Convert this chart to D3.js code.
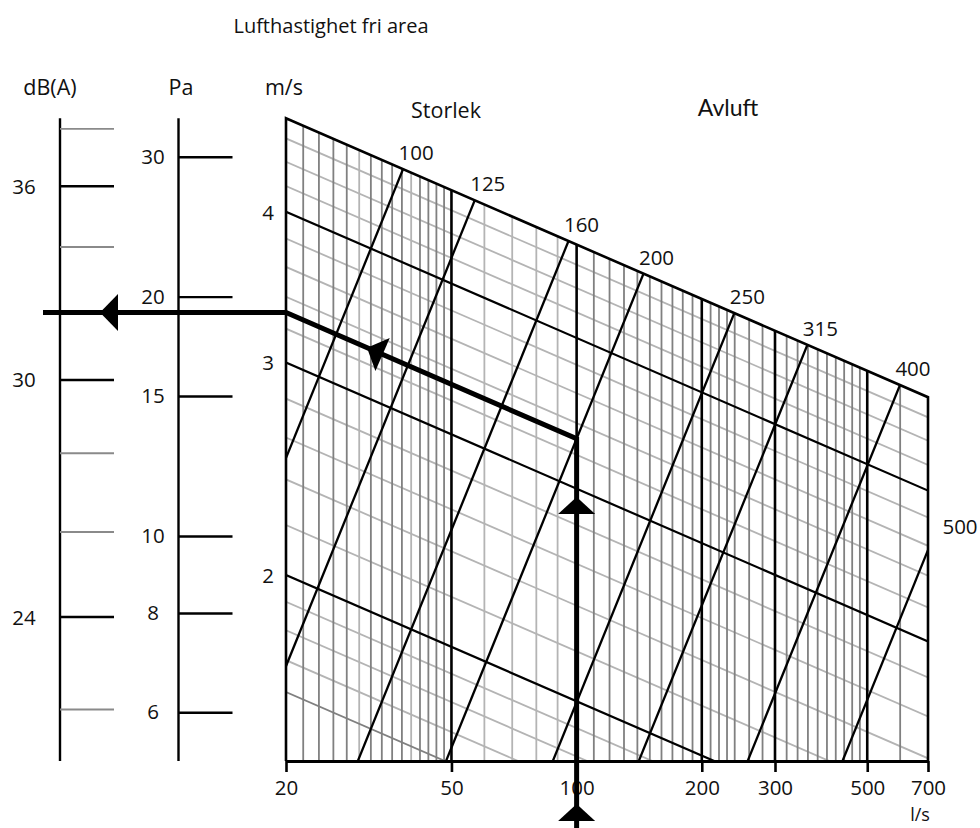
<!DOCTYPE html>
<html><head><meta charset="utf-8">
<script src="https://cdn.jsdelivr.net/npm/d3@7"></script>
<style>
body{margin:0;background:#fff}
svg{display:block}
text{font-family:"Open Sans",sans-serif;fill:#111}
</style>
</head><body>
<svg id="c" width="980" height="828"></svg>
<script>
// ---- data ----
const flowTicks = [20, 50, 100, 200, 300, 500, 700];
const flowMajor = [50, 100, 200, 300, 500];
const flowMinorDark = [22,24,26,28,32,34,36,38,42,44,46,48,110,120,130,140,150,160,170,180,190,210,220,230,240,260,280,320,340,360,380,400,420,440,460,480,600];
const flowMinorLight = [30,40,60,70,80,90];
const velMajor = [2, 3, 4];
const velMinor = [1.7,1.8,1.9,2.2,2.4,2.6,2.8,3.2,3.4,3.6,3.8,4.2,4.4,4.6];
const velMinorDark = [1.6];
const velTop = 4.78;
const sizes = [100, 125, 160, 200, 250, 315, 400, 500];
const freeArea = [0.0080, 0.0119, 0.0200, 0.0303, 0.0501, 0.0751, 0.1254, 0.1960]; // m2
const paTicks = [6, 8, 10, 15, 20, 30];
const dbTicks = [22, 24, 26, 28, 30, 32, 34, 36, 38];
const dbMajor = [24, 30, 36];
const readFlow = 100, readSize = 200;

// ---- layout ----
const svg = d3.select("#c");
const left = 286, right = 928, bottom = 761, H = 828;
const skew = 0.4344;
const numFs = 20.5, wordFs = 21.5;
const xScale = d3.scaleLog().domain([20, 700]).range([left, right]);
const vScale = d3.scaleLog().domain([2, 4]).range([575, 211.7]);
const paScale = d3.scaleLog().domain([6, 30]).range([712.3, 156.7]);
const dbScale = d3.scaleLog().domain([22, 38]).range([709, 128.3]);
const dbX = 60, paX = 178.5;
const yAt = (q, v) => vScale(v) + skew * (xScale(q) - xScale(20));
const topL = yAt(20, velTop), topR = yAt(700, velTop);

// clip
const defs = svg.append("defs");
defs.append("clipPath").attr("id", "grid").append("polygon")
  .attr("points", [[left, topL], [right, topR], [right, bottom], [left, bottom]].map(p => p.join(",")).join(" "));
const g = svg.append("g").attr("clip-path", "url(#grid)");

function vlines(arr, col, w) {
  g.selectAll(null).data(arr).enter().append("line")
    .attr("x1", d => xScale(d)).attr("x2", d => xScale(d))
    .attr("y1", bottom).attr("y2", 0)
    .attr("stroke", col).attr("stroke-width", w);
}
function velLines(arr, col, w) {
  g.selectAll(null).data(arr).enter().append("line")
    .attr("x1", xScale(20)).attr("x2", xScale(700))
    .attr("y1", d => yAt(20, d)).attr("y2", d => yAt(700, d))
    .attr("stroke", col).attr("stroke-width", w);
}
vlines(flowMinorLight, "#b4b4b4", 1.8);
velLines(velMinor, "#b4b4b4", 1.8);
vlines(flowMinorDark, "#808080", 1.8);
velLines(velMinorDark, "#808080", 1.8);
vlines(flowMajor, "#000", 2.6);
velLines(velMajor, "#000", 2.2);

// size lines
const sizeData = sizes.map((s, i) => ({ s, a: freeArea[i] }));
g.selectAll(null).data(sizeData).enter().append("line")
  .attr("x1", d => xScale(5)).attr("y1", d => yAt(5, 5 / 1000 / d.a))
  .attr("x2", d => xScale(3000)).attr("y2", d => yAt(3000, 3000 / 1000 / d.a))
  .attr("stroke", "#000").attr("stroke-width", 2.3);

// size labels
sizeData.forEach(d => {
  const qTop = velTop * d.a * 1000;
  let x, y;
  if (qTop <= 700) { x = xScale(qTop) + 13; y = yAt(qTop, velTop) - 17; }
  else { x = xScale(700) + 32; y = yAt(700, 0.7 / d.a) - 24; }
  svg.append("text").attr("x", x).attr("y", y).attr("text-anchor", "middle")
    .attr("dominant-baseline", "central").attr("font-size", numFs).text(d.s);
});

// boundary
svg.append("path")
  .attr("d", `M${left},${bottom}V${topL}L${right},${topR}V${bottom}`)
  .attr("fill", "none").attr("stroke", "#000").attr("stroke-width", 2.6).attr("stroke-linejoin", "miter");

// bottom axis
const ax = svg.append("g").attr("transform", `translate(0,${bottom})`)
  .call(d3.axisBottom(xScale).tickValues(flowTicks).tickFormat(d3.format("d"))
    .tickSize(11).tickSizeOuter(0).tickPadding(8));
ax.select(".domain").attr("stroke", "#000").attr("stroke-width", 3);
ax.selectAll(".tick line").attr("stroke", "#000").attr("stroke-width", 2.6);
ax.selectAll(".tick text").attr("font-size", numFs).attr("font-family", "Open Sans").attr("fill", "#111");
svg.append("text").attr("x", 920).attr("y", 821).attr("text-anchor", "middle").attr("font-size", 18).text("l/s");

// velocity labels
svg.selectAll(null).data(velMajor).enter().append("text")
  .attr("x", 268).attr("y", d => vScale(d)).attr("text-anchor", "middle")
  .attr("dominant-baseline", "central").attr("font-size", numFs).text(d => d);

// Pa axis
svg.append("line").attr("x1", paX).attr("x2", paX).attr("y1", topL).attr("y2", bottom)
  .attr("stroke", "#000").attr("stroke-width", 2.4);
const pa = svg.append("g").attr("transform", `translate(${paX},0)`)
  .call(d3.axisRight(paScale).tickValues(paTicks).tickSize(54).tickFormat(""));
pa.select(".domain").remove();
pa.selectAll(".tick line").attr("stroke", "#000").attr("stroke-width", 2.4);
svg.selectAll(null).data(paTicks).enter().append("text")
  .attr("x", 153).attr("y", d => paScale(d) - 1).attr("text-anchor", "middle")
  .attr("dominant-baseline", "central").attr("font-size", numFs).text(d => d);

// dB axis
svg.append("line").attr("x1", dbX).attr("x2", dbX).attr("y1", topL).attr("y2", bottom)
  .attr("stroke", "#000").attr("stroke-width", 2.4);
const db = svg.append("g").attr("transform", `translate(${dbX},0)`)
  .call(d3.axisRight(dbScale).tickValues(dbTicks).tickSize(54).tickFormat(""));
db.select(".domain").remove();
db.selectAll(".tick line")
  .attr("stroke", d => dbMajor.includes(d) ? "#000" : "#8a8a8a")
  .attr("stroke-width", d => dbMajor.includes(d) ? 2.4 : 1.8);
svg.selectAll(null).data(dbMajor).enter().append("text")
  .attr("x", 24).attr("y", d => dbScale(d)).attr("text-anchor", "middle")
  .attr("dominant-baseline", "central").attr("font-size", numFs).text(d => d);

// headers
svg.append("text").attr("x", 331).attr("y", 33).attr("text-anchor", "middle").attr("font-size", 20).text("Lufthastighet fri area");
svg.append("text").attr("x", 50).attr("y", 95).attr("text-anchor", "middle").attr("font-size", wordFs).text("dB(A)");
svg.append("text").attr("x", 181).attr("y", 95).attr("text-anchor", "middle").attr("font-size", wordFs).text("Pa");
svg.append("text").attr("x", 284).attr("y", 95).attr("text-anchor", "middle").attr("font-size", wordFs).text("m/s");
svg.append("text").attr("x", 446).attr("y", 118).attr("text-anchor", "middle").attr("font-size", wordFs).text("Storlek");
svg.append("text").attr("x", 728).attr("y", 116).attr("text-anchor", "middle").attr("font-size", 23)
  .style("font-family", "Lato, sans-serif").text("Avluft");

// reading path
const aRead = freeArea[sizes.indexOf(readSize)];
const vRead = readFlow / 1000 / aRead;
const px = xScale(readFlow);
const p2 = [px, yAt(readFlow, vRead)];
const p3 = [left, vScale(vRead)];
const p4 = [43, vScale(vRead)];
svg.append("path")
  .attr("d", `M${px},${H}L${p2[0]},${p2[1]}L${p3[0]},${p3[1]}L${p4[0]},${p4[1]}`)
  .attr("fill", "none").attr("stroke", "#000").attr("stroke-width", 5).attr("stroke-linejoin", "miter");

function arrow(tip, dir, len, half) {
  const n = Math.hypot(dir[0], dir[1]); const ux = dir[0] / n, uy = dir[1] / n;
  const bx = tip[0] - ux * len, by = tip[1] - uy * len;
  const pxv = -uy, pyv = ux;
  svg.append("path").attr("d",
    `M${tip[0]},${tip[1]}L${bx + pxv * half},${by + pyv * half}L${bx - pxv * half},${by - pyv * half}Z`)
    .attr("fill", "#000");
}
arrow([px, 804], [0, -1], 17, 18.5);
arrow([px, 497], [0, -1], 17, 18.5);
const dvec = [p3[0] - p2[0], p3[1] - p2[1]];
const tDiag = 81 / (p2[0] - p3[0]);
arrow([p3[0] + (p2[0] - p3[0]) * tDiag, p3[1] + (p2[1] - p3[1]) * tDiag], dvec, 17, 18);
arrow([100, p3[1]], [-1, 0], 18, 18.5);
</script>
</body></html>
